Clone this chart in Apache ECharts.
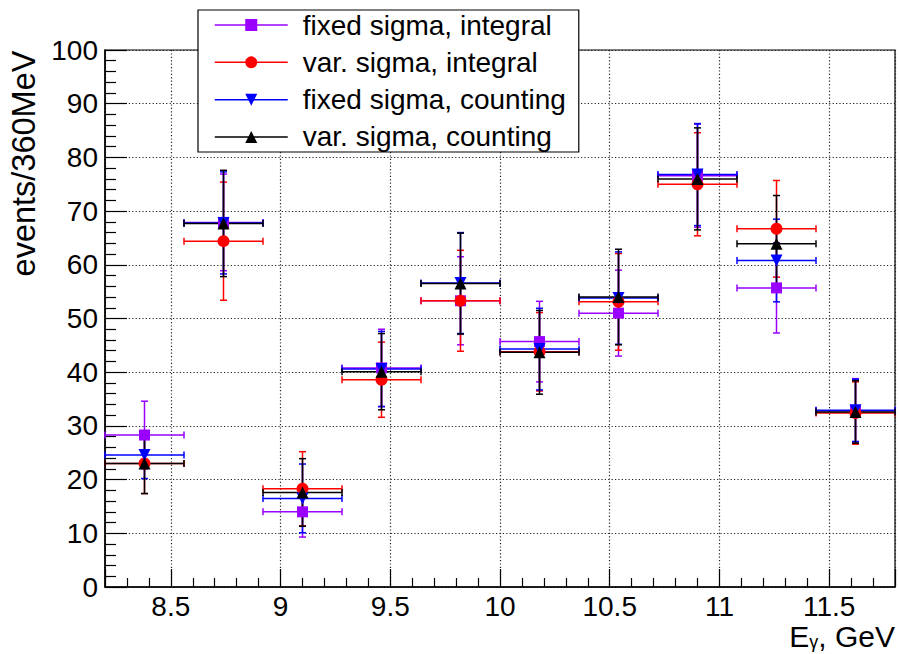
<!DOCTYPE html>
<html><head><meta charset="utf-8">
<script src="https://cdn.jsdelivr.net/npm/echarts@6/dist/echarts.min.js"></script>
<style>html,body{margin:0;padding:0;background:#fff}#c{width:899px;height:654px}</style>
</head><body><div id="c"></div>
<script>
// ---- data ----
const binCenters = [8.38, 8.74, 9.10, 9.46, 9.82, 10.18, 10.54, 10.90, 11.26, 11.62];
const binHalfWidth = 0.18;
const xTickValues = [8.5, 9, 9.5, 10, 10.5, 11, 11.5];
const seriesNames = ['fixed sigma, integral', 'var. sigma, integral', 'fixed sigma, counting', 'var. sigma, counting'];
const xTitle = '{a|E}{s|γ}{a|, GeV}';
const yTitle = 'events/360MeV';

const fixedIntegral    = [28.3, 67.9, 14.0, 40.8, 53.3, 45.7, 51.0, 76.6, 55.7, 32.8];
const fixedIntegralErr = [6.3, 9.0, 4.7, 7.2, 8.2, 7.5, 8.0, 9.6, 8.4, 6.0];

const varIntegral      = [23.0, 64.4, 18.3, 38.6, 53.3, 43.8, 53.1, 75.0, 66.7, 32.4];
const varIntegralErr   = [5.6, 11.0, 6.9, 7.0, 9.4, 7.3, 9.0, 9.6, 9.0, 5.8];

const fixedCounting    = [24.6, 67.8, 16.5, 40.6, 56.6, 44.3, 53.8, 76.8, 60.8, 32.9];
const fixedCountingErr = [4.4, 9.5, 6.4, 7.0, 9.4, 7.6, 8.6, 9.5, 7.7, 5.8];

const varCounting      = [23.0, 67.7, 17.6, 40.1, 56.5, 43.7, 54.0, 76.0, 63.9, 32.6];
const varCountingErr   = [5.6, 9.9, 6.3, 7.1, 9.4, 7.8, 8.9, 9.5, 9.0, 5.8];

// ---- styling ----
const FONT = "'Liberation Sans', Arial, Helvetica, sans-serif";
const groups = [
  {name: seriesNames[0], vals: fixedIntegral, errs: fixedIntegralErr, color: '#9900ff', symbol: 'rect', size: 11, rotate: 0},
  {name: seriesNames[1], vals: varIntegral, errs: varIntegralErr, color: '#ff0000', symbol: 'circle', size: 12, rotate: 0},
  {name: seriesNames[2], vals: fixedCounting, errs: fixedCountingErr, color: '#0000ff', symbol: 'triangle', size: 12, rotate: 180},
  {name: seriesNames[3], vals: varCounting, errs: varCountingErr, color: '#000000', symbol: 'triangle', size: 12, rotate: 0}
];

function errRenderItem(color) {
  return function (params, api) {
    const x = api.value(0), y = api.value(1), ex = api.value(2), ey = api.value(3);
    const l = api.coord([x - ex, y]), r = api.coord([x + ex, y]);
    const t = api.coord([x, y + ey]), b = api.coord([x, y - ey]);
    const cap = 3.5;
    const st = {stroke: color, lineWidth: 1.5, fill: null};
    const ln = (x1, y1, x2, y2) => ({type: 'line', shape: {x1, y1, x2, y2}, style: st});
    return {type: 'group', children: [
      ln(l[0], l[1], r[0], r[1]),
      ln(l[0], l[1] - cap, l[0], l[1] + cap),
      ln(r[0], r[1] - cap, r[0], r[1] + cap),
      ln(t[0], t[1], b[0], b[1]),
      ln(t[0] - cap, t[1], t[0] + cap, t[1]),
      ln(b[0] - cap, b[1], b[0] + cap, b[1])
    ]};
  };
}

const series = [];
groups.forEach(g => {
  series.push({
    name: 'err: ' + g.name,
    type: 'custom',
    renderItem: errRenderItem(g.color),
    data: binCenters.map((x, i) => [x, g.vals[i], binHalfWidth, g.errs[i]]),
    encode: {x: 0, y: 1},
    silent: true,
    animation: false
  });
  series.push({
    name: g.name,
    type: 'line',
    data: binCenters.map((x, i) => [x, g.vals[i]]),
    symbol: g.symbol,
    symbolSize: g.size,
    symbolRotate: g.rotate,
    showSymbol: true,
    showAllSymbol: true,
    lineStyle: {color: g.color, width: 1.5, opacity: 0},
    itemStyle: {color: g.color, opacity: 1},
    emphasis: {disabled: true},
    silent: true,
    animation: false
  });
});

const gridLine = {show: true, lineStyle: {color: '#222', width: 1.2, type: [1.2, 2.2]}};

const chart = echarts.init(document.getElementById('c'), null, {renderer: 'svg'});
chart.setOption({
  backgroundColor: '#fff',
  animation: false,
  textStyle: {fontFamily: FONT},
  grid: {left: 105, right: 4, top: 50, bottom: 67, show: true, borderColor: '#000', borderWidth: 1.2,
         backgroundColor: 'transparent', containLabel: false, outerBoundsMode: 'none'},
  legend: {
    orient: 'vertical', left: 198, top: 10,
    padding: [0, 13, 0, 16],
    itemGap: 7.33, itemWidth: 73, itemHeight: 15,
    backgroundColor: '#fff', borderColor: '#000', borderWidth: 1.2, borderRadius: 0,
    textStyle: {fontFamily: FONT, fontSize: 28, color: '#000', lineHeight: 30, padding: [0, 0, 0, 10]},
    lineStyle: {width: 1.5, opacity: 1},
    selectedMode: false,
    data: seriesNames
  },
  graphic: [{
    type: 'text', right: 4, top: 621, silent: true,
    style: {
      text: xTitle, fill: '#000',
      rich: {
        a: {fontFamily: FONT, fontSize: 30, fill: '#000', lineHeight: 30, verticalAlign: 'top'},
        s: {fontFamily: FONT, fontSize: 18, fill: '#000', lineHeight: 18, padding: [12, 0, 0, 0], verticalAlign: 'top'}
      }
    }
  }],
  xAxis: {
    type: 'value', min: 8.2, max: 11.8, splitNumber: 7,
    axisLine: {show: true, onZero: false, lineStyle: {color: '#000', width: 1.5}},
    axisTick: {show: true, inside: true, length: 18, lineStyle: {color: '#000', width: 1.2}},
    minorTick: {show: true, splitNumber: 5, length: 9, lineStyle: {color: '#000', width: 1.2}},
    splitLine: gridLine,
    axisLabel: {
      fontFamily: FONT, fontSize: 28, color: '#000', margin: 5,
      showMinLabel: true, showMaxLabel: true,
      formatter: v => xTickValues.some(t => Math.abs(t - v) < 1e-6) ? String(+(+v).toFixed(2)) : ''
    }
  },
  yAxis: {
    type: 'value', min: 0, max: 100, interval: 10,
    axisLine: {show: true, lineStyle: {color: '#000', width: 1.5}},
    axisTick: {show: true, inside: true, length: 22, lineStyle: {color: '#000', width: 1.2}},
    minorTick: {show: true, splitNumber: 5, length: 11, lineStyle: {color: '#000', width: 1.2}},
    splitLine: gridLine,
    axisLabel: {fontFamily: FONT, fontSize: 28, color: '#000', margin: 7},
    name: yTitle,
    nameLocation: 'middle', nameGap: 64,
    nameTextStyle: {fontFamily: FONT, fontSize: 32.5, color: '#000', padding: [0, 0, 0, 310]}
  },
  series: series
});
</script></body></html>
